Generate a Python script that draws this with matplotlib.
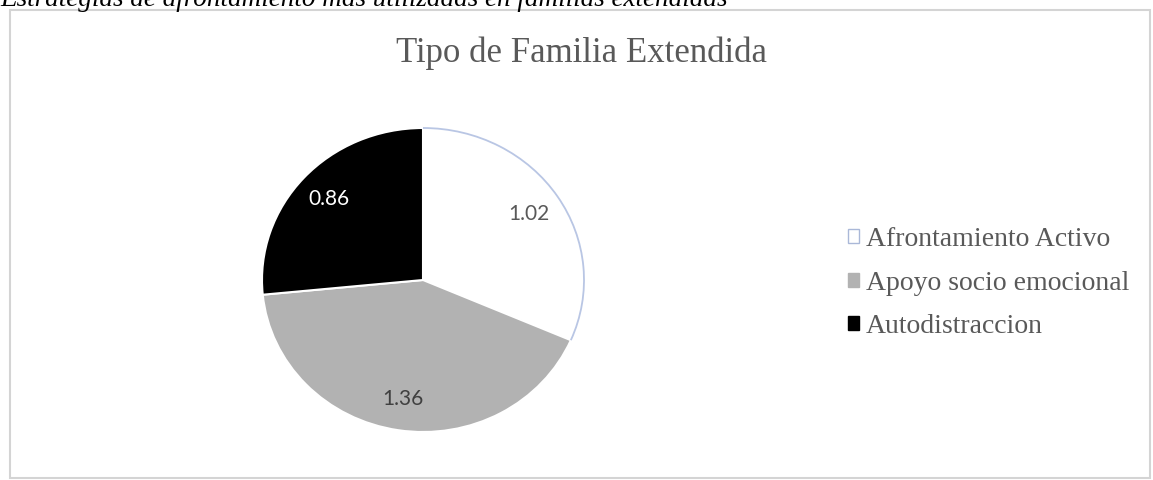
import matplotlib.pyplot as plt
from matplotlib.patches import Rectangle, Arc, Patch

categorias = ['Afrontamiento Activo', 'Apoyo socio emocional', 'Autodistraccion']
valores = [1.02, 1.36, 0.86]
colores = ['#ffffff', '#b2b2b2', '#000000']
color_etiquetas = ['#595959', '#404040', '#ffffff']

titulo = 'Tipo de Familia Extendida'
leyenda_pie = 'Estrategias de afrontamiento más utilizadas en familias extendidas'

W, H = 1153, 480
fig = plt.figure(figsize=(W / 100, H / 100), dpi=100)
fig.patch.set_facecolor('white')

# marco del grafico
fig.patches.append(Rectangle((10 / W, 1 - 478 / H), 1140 / W, 468 / H,
                             transform=fig.transFigure, fill=False,
                             edgecolor='#d4d4d4', linewidth=1.5))

# texto de la figura (cortado arriba)
fig.text(0 / W, 1 - 6 / H, leyenda_pie, fontsize=19.5, style='italic',
         family='Liberation Serif', color='black', va='baseline', ha='left')

fig.text(581 / W, 1 - 62 / H, titulo, fontsize=25, family='Liberation Serif',
         color='#595959', ha='center', va='baseline')

# pastel (centro ~ (423, 280) px, radios 161 x 152 px)
cx, cy, rx, ry = 423, 280, 161, 152
ax = fig.add_axes([(cx - 1.25 * rx) / W, 1 - (cy + 1.25 * ry) / H,
                   2.5 * rx / W, 2.5 * ry / H])
total = sum(valores)
wedges, textos, autotextos = ax.pie(
    valores, colors=colores, startangle=90, counterclock=False,
    autopct=lambda p: f'{p * total / 100:.2f}', pctdistance=0.79,
    wedgeprops=dict(edgecolor='white', linewidth=1.5),
    textprops=dict(family='Lato', fontsize=15))
ax.set_aspect('auto')
ax.set_xlim(-1.25, 1.25)
ax.set_ylim(-1.25, 1.25)
for t, c in zip(autotextos, color_etiquetas):
    t.set_color(c)

# borde azulado del sector blanco
w0 = wedges[0]
ax.add_patch(Arc((0, 0), 2, 2, theta1=w0.theta1, theta2=w0.theta2,
                 color='#b9c6e4', linewidth=1.3))

handles = [Patch(facecolor=colores[0], edgecolor='#aab8d8', linewidth=1),
           Patch(facecolor=colores[1], edgecolor=colores[1]),
           Patch(facecolor=colores[2], edgecolor=colores[2])]
leg = fig.legend(handles, categorias, loc='center left',
                 bbox_to_anchor=(848 / W, 1 - 283 / H), frameon=False,
                 prop=dict(family='Liberation Serif', size=20),
                 handlelength=0.4, handleheight=0.4, handletextpad=0.25,
                 labelspacing=0.66, borderpad=0, borderaxespad=0)
for t in leg.get_texts():
    t.set_color('#595959')

fig.savefig('out.png', dpi=100)
